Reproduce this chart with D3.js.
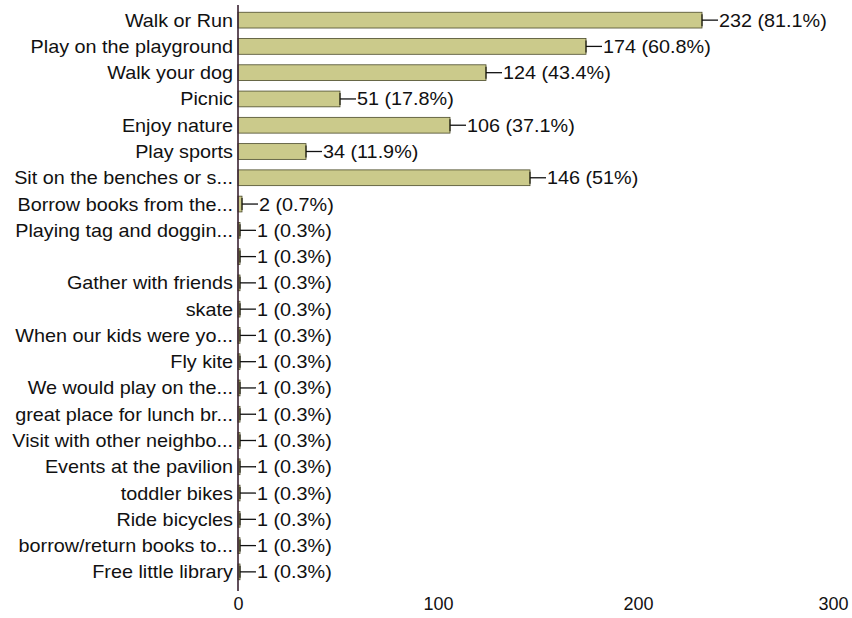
<!DOCTYPE html>
<html>
<head>
<meta charset="utf-8">
<script src="https://cdn.jsdelivr.net/npm/d3@7"></script>
<style>
  html, body { margin: 0; padding: 0; background: #fff; }
  svg { display: block; }
  text { font-family: "Liberation Sans", Arial, Helvetica, sans-serif; fill: #111; }
</style>
</head>
<body>
<svg id="chart" width="852" height="618"></svg>
<script>
// Survey responses: what people do at the park
const categories = [
  "Walk or Run",
  "Play on the playground",
  "Walk your dog",
  "Picnic",
  "Enjoy nature",
  "Play sports",
  "Sit on the benches or s...",
  "Borrow books from the...",
  "Playing tag and doggin...",
  "",
  "Gather with friends",
  "skate",
  "When our kids were yo...",
  "Fly kite",
  "We would play on the...",
  "great place for lunch br...",
  "Visit with other neighbo...",
  "Events at the pavilion",
  "toddler bikes",
  "Ride bicycles",
  "borrow/return books to...",
  "Free little library"
];
const counts = [232, 174, 124, 51, 106, 34, 146, 2, 1, 1, 1, 1, 1, 1, 1, 1, 1, 1, 1, 1, 1, 1];
const percents = ["81.1%", "60.8%", "43.4%", "17.8%", "37.1%", "11.9%", "51%", "0.7%",
  "0.3%", "0.3%", "0.3%", "0.3%", "0.3%", "0.3%", "0.3%", "0.3%", "0.3%", "0.3%",
  "0.3%", "0.3%", "0.3%", "0.3%"];
const xTicks = [0, 100, 200, 300];

const rows = categories.map((c, i) => ({ i, label: c, count: counts[i], pct: percents[i] }));

const FONT = 18;      // label size
const STRETCH = 1.1;  // slightly wide lettering

const svg = d3.select("#chart");
const x = d3.scaleLinear().domain([0, 300]).range([238, 838]);
const y = d3.scaleBand().domain(rows.map(d => d.i)).range([7, 585])
  .paddingInner(0.4).paddingOuter(0.2);
const cy = d => y(d.i) + y.bandwidth() / 2;

// bars
svg.append("g").selectAll("rect").data(rows).join("rect")
  .attr("x", x(0))
  .attr("y", d => y(d.i))
  .attr("width", d => x(d.count) - x(0))
  .attr("height", y.bandwidth())
  .attr("fill", "#cbca8b")
  .attr("stroke", "#4a4a2a")
  .attr("stroke-width", 0.8);

// value callouts: end cap, leader line and text
const ends = svg.append("g").selectAll("g").data(rows).join("g")
  .attr("transform", d => `translate(${x(d.count)},${cy(d)})`);
ends.append("line")
  .attr("x1", 0).attr("x2", 0).attr("y1", -6).attr("y2", 6)
  .attr("stroke", "#2a2a1a").attr("stroke-width", 1.3);
ends.append("line")
  .attr("x1", 0).attr("x2", 16).attr("y1", 0).attr("y2", 0)
  .attr("stroke", "#111").attr("stroke-width", 1.3);
ends.append("text")
  .attr("transform", `translate(17,0) scale(${STRETCH},1)`)
  .attr("dy", "0.36em")
  .attr("font-size", FONT)
  .text(d => `${d.count} (${d.pct})`);

// category labels
svg.append("g").selectAll("text").data(rows).join("text")
  .attr("transform", d => `translate(${x(0) - 5},${cy(d)}) scale(${STRETCH},1)`)
  .attr("dy", "0.36em")
  .attr("text-anchor", "end")
  .attr("font-size", FONT)
  .text(d => d.label);

// vertical baseline
svg.append("line")
  .attr("x1", x(0)).attr("x2", x(0))
  .attr("y1", 5).attr("y2", 591)
  .attr("stroke", "#3a2232").attr("stroke-width", 1.6);

// x axis tick labels; the last one is pulled in to stay inside the frame
const xAxis = d3.axisBottom(x).tickValues(xTicks).tickSize(0).tickPadding(0);
const gx = svg.append("g").attr("transform", "translate(0,597)").call(xAxis);
gx.select(".domain").remove();
gx.selectAll("text")
  .attr("font-size", FONT)
  .attr("font-family", "Liberation Sans, Arial, sans-serif")
  .attr("fill", "#111");
gx.selectAll(".tick").filter(d => d === xTicks[xTicks.length - 1]).select("text")
  .attr("text-anchor", "end")
  .attr("x", 10);
</script>
</body>
</html>
